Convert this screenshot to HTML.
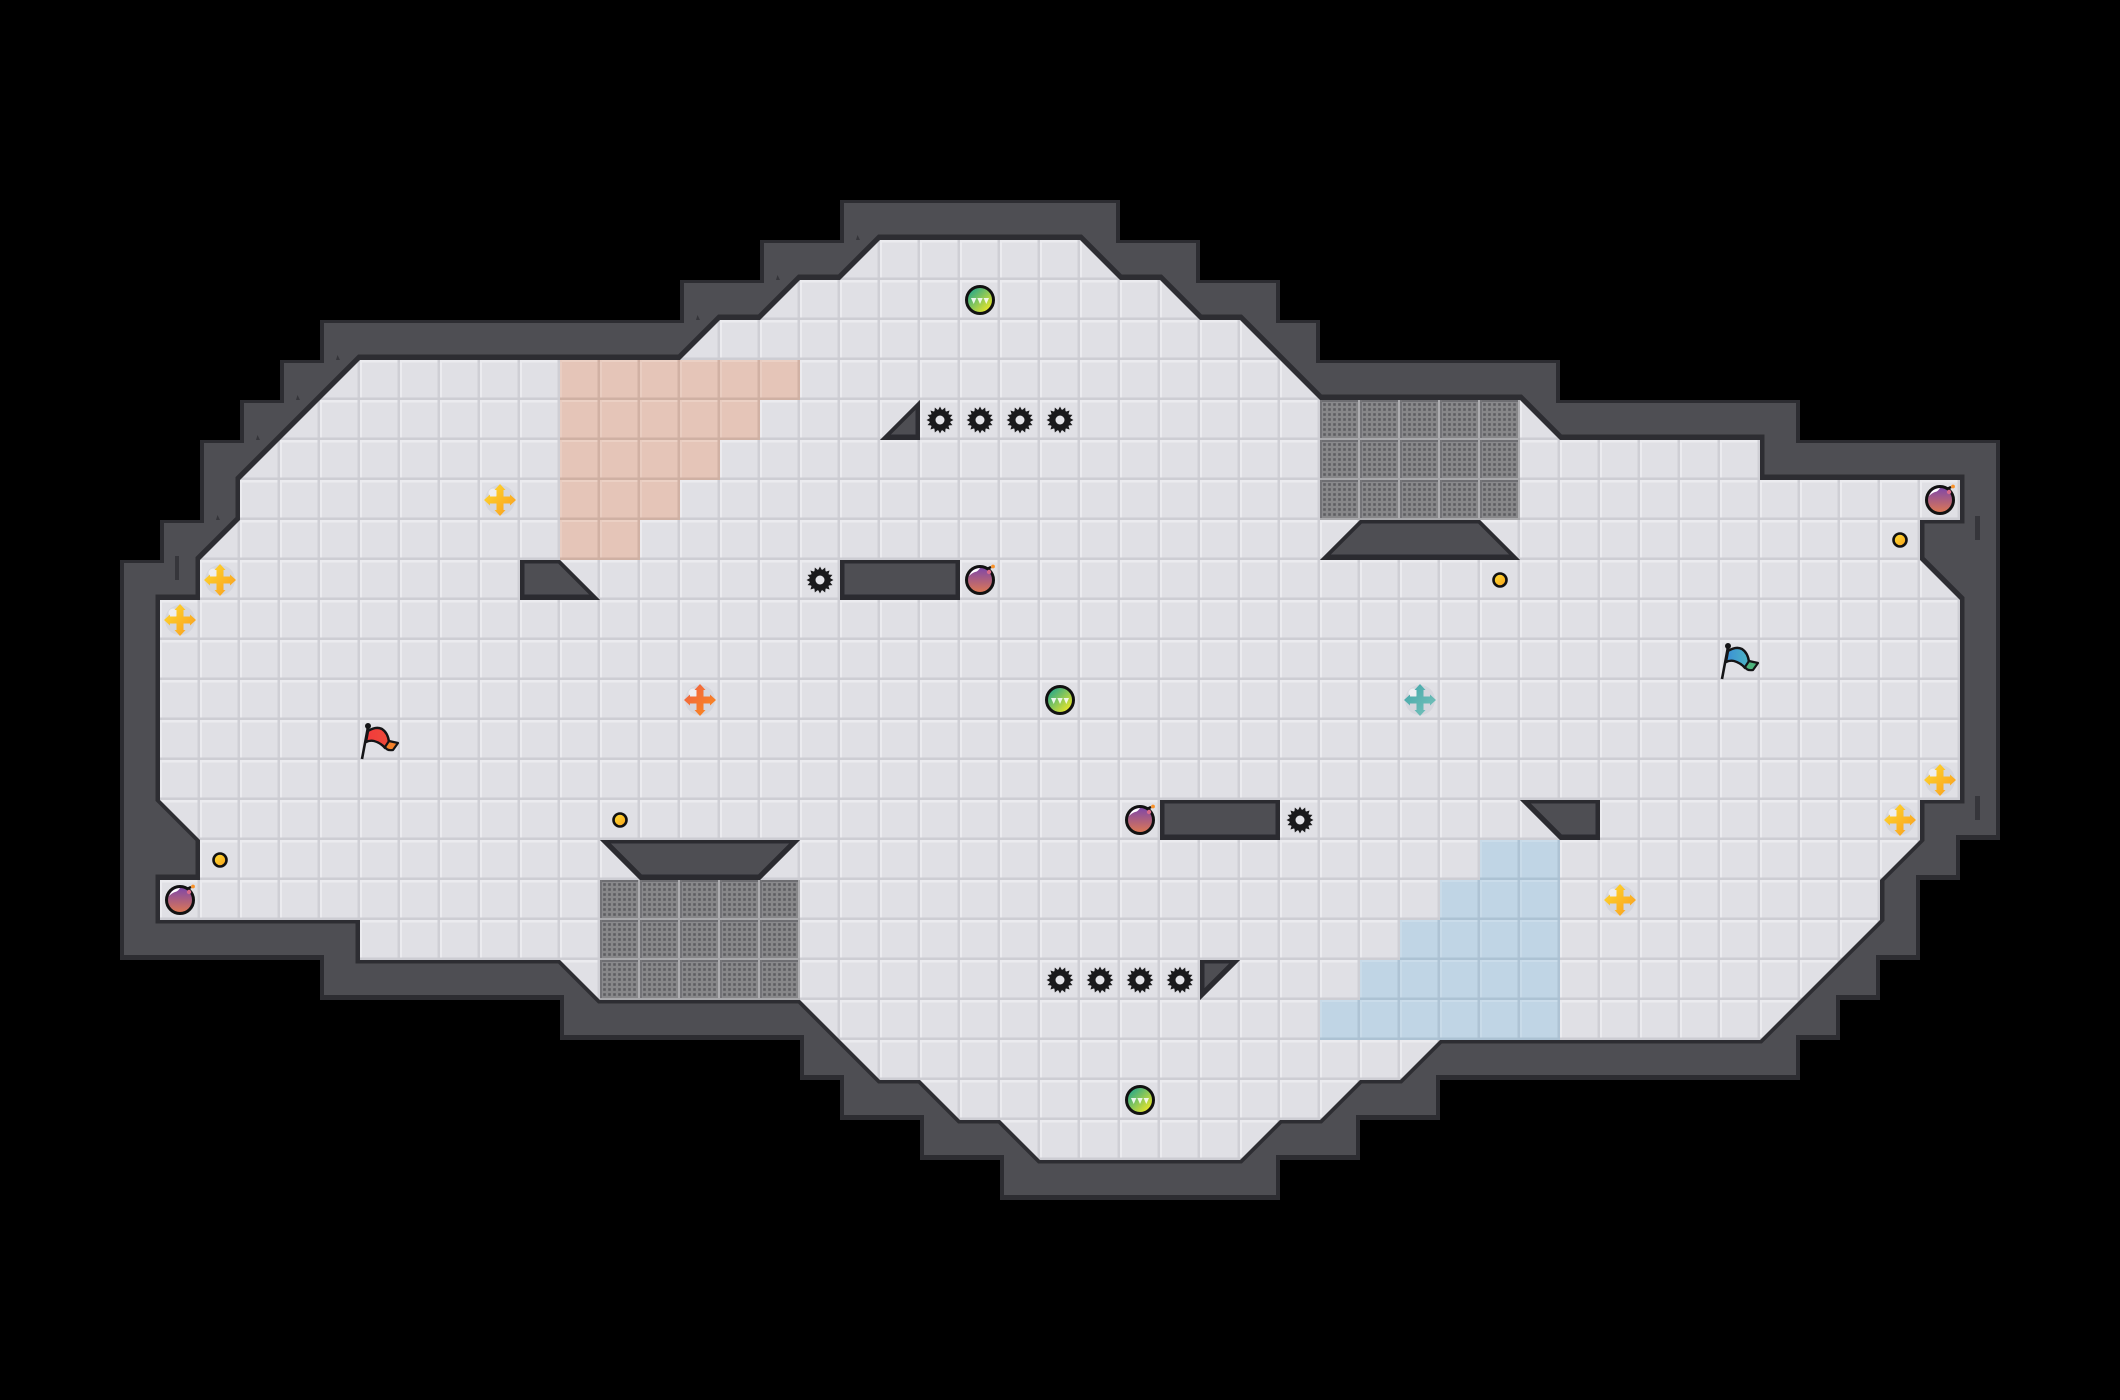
<!DOCTYPE html>
<html>
<head>
<meta charset="utf-8">
<style>
html,body{margin:0;padding:0;background:#000;}
svg{display:block;}
</style>
</head>
<body>
<svg xmlns="http://www.w3.org/2000/svg" width="2120" height="1400" viewBox="0 0 2120 1400">
<defs>
<polygon id="wall" points="3,14 4,14 4,13 5,13 5,11 6,11 6,10 7,10 7,9 8,9 8,8 17,8 17,7 19,7 19,6 21,6 21,5 28,5 28,6 30,6 30,7 32,7 32,8 33,8 33,9 39,9 39,10 45,10 45,11 50,11 50,21 49,21 49,22 48,22 48,24 47,24 47,25 46,25 46,26 45,26 45,27 36,27 36,28 34,28 34,29 32,29 32,30 25,30 25,29 23,29 23,28 21,28 21,27 20,27 20,26 14,26 14,25 8,25 8,24 3,24"/>
<polygon id="floor" points="4,15 5,15 5,14 6,13 6,12 9,9 17,9 18,8 19,8 20,7 21,7 22,6 27,6 28,7 29,7 30,8 31,8 33,10 38,10 39,11 44,11 44,12 49,12 49,13 48,13 48,14 49,15 49,20 48,20 48,21 47,22 47,23 44,26 36,26 35,27 34,27 33,28 32,28 31,29 26,29 25,28 24,28 23,27 22,27 20,25 15,25 14,24 9,24 9,23 4,23 4,22 5,22 5,21 4,20"/>
<g id="obs">
<polygon points="13,14 14,14 15,15 13,15"/>
<polygon points="23,10 23,11 22,11"/>
<polygon points="21,14 24,14 24,15 21,15"/>
<polygon points="34,13 37,13 38,14 33,14"/>
<polygon points="29,20 32,20 32,21 29,21"/>
<polygon points="38,20 40,20 40,21 39,21"/>
<polygon points="15,21 20,21 19,22 16,22"/>
<polygon points="30,24 31,24 30,25"/>
</g>
<clipPath id="cw"><use href="#wall" transform="scale(40)"/></clipPath>
<clipPath id="cf"><use href="#floor" transform="scale(40)"/></clipPath>
<clipPath id="co">
<polygon transform="scale(40)" points="13,14 14,14 15,15 13,15"/>
<polygon transform="scale(40)" points="23,10 23,11 22,11"/>
<polygon transform="scale(40)" points="21,14 24,14 24,15 21,15"/>
<polygon transform="scale(40)" points="34,13 37,13 38,14 33,14"/>
<polygon transform="scale(40)" points="29,20 32,20 32,21 29,21"/>
<polygon transform="scale(40)" points="38,20 40,20 40,21 39,21"/>
<polygon transform="scale(40)" points="15,21 20,21 19,22 16,22"/>
<polygon transform="scale(40)" points="30,24 31,24 30,25"/>
</clipPath>
<pattern id="tile" patternUnits="userSpaceOnUse" width="40" height="40">
<rect width="40" height="40" fill="#e0e0e5"/>
<rect x="0" y="0" width="40" height="2.5" fill="#ebebef"/>
<rect x="0" y="0" width="2" height="40" fill="#ebebef"/>
<rect x="37.5" y="0" width="2.5" height="40" fill="#cfcfd5"/>
<rect x="0" y="37.5" width="40" height="2.5" fill="#cdcdd3"/>
</pattern>
<pattern id="tileS" patternUnits="userSpaceOnUse" width="40" height="40">
<rect width="40" height="40" fill="#e5c5b8"/>
<rect x="0" y="0" width="40" height="2" fill="#ebd0c4"/>
<rect x="0" y="0" width="2" height="40" fill="#e9cdc1"/>
<rect x="37.5" y="0" width="2.5" height="40" fill="#d1b1a4"/>
<rect x="0" y="37.5" width="40" height="2.5" fill="#cfb0a3"/>
</pattern>
<pattern id="tileB" patternUnits="userSpaceOnUse" width="40" height="40">
<rect width="40" height="40" fill="#c0d5e5"/>
<rect x="0" y="0" width="40" height="2" fill="#cadcea"/>
<rect x="0" y="0" width="2" height="40" fill="#c8dbe9"/>
<rect x="37.5" y="0" width="2.5" height="40" fill="#aec3d4"/>
<rect x="0" y="37.5" width="40" height="2.5" fill="#acc2d3"/>
</pattern>
<pattern id="dots" patternUnits="userSpaceOnUse" x="2" y="2" width="5" height="5">
<rect width="5" height="5" fill="#878789"/>
<rect x="1.2" y="1.2" width="2.6" height="2.6" fill="#5d5d61"/>
</pattern>
<g id="grayt">
<rect width="40" height="40" fill="#8a8a8d"/>
<rect x="3" y="3" width="35" height="35" fill="url(#dots)"/>
<rect x="0" y="0" width="40" height="2" fill="#6e6e72"/>
<rect x="0" y="0" width="2" height="40" fill="#737377"/>
<rect x="38" y="0" width="2" height="40" fill="#adadb0"/>
<rect x="0" y="38" width="40" height="2" fill="#a8a8ab"/>
</g>
<linearGradient id="gy" x1="0" y1="0" x2="1" y2="1"><stop offset="0" stop-color="#ffdc2e"/><stop offset="1" stop-color="#f99a20"/></linearGradient>
<linearGradient id="go" x1="0" y1="0" x2="1" y2="1"><stop offset="0" stop-color="#f05f45"/><stop offset="1" stop-color="#fa8c1c"/></linearGradient>
<linearGradient id="gt" x1="0" y1="0" x2="1" y2="1"><stop offset="0" stop-color="#3fa5a8"/><stop offset="1" stop-color="#7cc4bc"/></linearGradient>
<linearGradient id="gg" x1="0.1" y1="0.1" x2="0.9" y2="0.9"><stop offset="0" stop-color="#1fa58e"/><stop offset="1" stop-color="#f7ea22"/></linearGradient>
<linearGradient id="gp" x1="0" y1="0" x2="0" y2="1"><stop offset="0" stop-color="#7a45ad"/><stop offset="1" stop-color="#e07a50"/></linearGradient>
<linearGradient id="gc" x1="0" y1="0" x2="1" y2="1"><stop offset="0" stop-color="#ffe033"/><stop offset="1" stop-color="#f8a01c"/></linearGradient>
<linearGradient id="gfr" x1="0" y1="0" x2="1" y2="0"><stop offset="0" stop-color="#f23a3c"/><stop offset="1" stop-color="#ee4a3a"/></linearGradient>
<linearGradient id="gfb" x1="0" y1="0" x2="1" y2="0"><stop offset="0" stop-color="#3a8fd6"/><stop offset="1" stop-color="#4db5c4"/></linearGradient>
<path id="crossp" d="M0,-16 L5.5,-10 L3.5,-10 L3.5,-3.5 L10,-3.5 L10,-5.5 L16,0 L10,5.5 L10,3.5 L3.5,3.5 L3.5,10 L5.5,10 L0,16 L-5.5,10 L-3.5,10 L-3.5,3.5 L-10,3.5 L-10,5.5 L-16,0 L-10,-5.5 L-10,-3.5 L-3.5,-3.5 L-3.5,-10 L-5.5,-10 Z"/>
<g id="crossbg"><circle r="15" fill="#d5d6dd"/><circle cx="-7" cy="-7" r="4.5" fill="#eeeef2"/></g>
<g id="gear">
<polygon fill="#1a1a1c" points="13.5,0 9.81,1.95 12.47,5.17 8.31,5.56 9.55,9.55 5.56,8.31 5.17,12.47 1.95,9.81 0,13.5 -1.95,9.81 -5.17,12.47 -5.56,8.31 -9.55,9.55 -8.31,5.56 -12.47,5.17 -9.81,1.95 -13.5,0 -9.81,-1.95 -12.47,-5.17 -8.31,-5.56 -9.55,-9.55 -5.56,-8.31 -5.17,-12.47 -1.95,-9.81 0,-13.5 1.95,-9.81 5.17,-12.47 5.56,-8.31 9.55,-9.55 8.31,-5.56 12.47,-5.17 9.81,-1.95"/>
<circle r="10.5" fill="#1a1a1c"/>
<circle r="4.5" fill="#e4e4e8"/>
</g>
<g id="green">
<circle r="13.5" fill="url(#gg)" stroke="#111" stroke-width="3"/>
<path d="M-9,-2 L-3.6,-2 L-6.3,4Z M-2.7,-2 L2.7,-2 L0,4Z M3.6,-2 L9,-2 L6.3,4Z" fill="#fff" opacity=".85"/>
</g>
<g id="bomb">
<circle r="13.5" fill="url(#gp)" stroke="#111" stroke-width="3"/>
<path d="M-11,-4 Q-8,-11.5 0,-12 Q-2,-8.5 -5,-8 Q-8,-7 -11,-4Z" fill="#fff"/>
<path d="M7,-11 L11,-13" stroke="#111" stroke-width="2.4"/>
<circle cx="9" cy="-8" r="2.2" fill="#d96a8a"/>
<circle cx="13" cy="-13.5" r="1.9" fill="#f9922a"/>
</g>
<g id="coin"><circle r="6.5" fill="url(#gc)" stroke="#111" stroke-width="2.6"/></g>
</defs>

<rect width="2120" height="1400" fill="#000"/>

<use href="#wall" transform="scale(40)" fill="#4e4e53"/>
<g clip-path="url(#cw)">
<g transform="translate(0,-1) scale(40)">
<use href="#wall" fill="none" stroke="#2d2d32" stroke-width="0.2" stroke-miterlimit="10"/>
</g>
<g transform="translate(0,-1) scale(40)">
<use href="#floor" fill="none" stroke="#2d2d32" stroke-width="0.225" stroke-miterlimit="10"/>
</g>
</g>

<!-- wall notches -->
<g fill="#36363b">
<rect x="175" y="556" width="4" height="24"/>
<rect x="1975" y="516" width="5" height="24"/>
<rect x="1975" y="796" width="5" height="24"/>
<path d="M336,360 L337.5,355 L340,360Z M296,400 L297.5,395 L300,400Z M256,440 L257.5,435 L260,440Z M216,520 L217.5,515 L220,520Z M696,320 L697.5,315 L700,320Z M776,280 L777.5,275 L780,280Z M856,240 L857.5,235 L860,240Z"/>
</g>

<!-- floor -->
<g clip-path="url(#cf)">
<rect x="0" y="0" width="2120" height="1400" fill="url(#tile)"/>
<g fill="url(#tileS)">
<rect x="560" y="360" width="240" height="40"/>
<rect x="560" y="400" width="200" height="40"/>
<rect x="560" y="440" width="160" height="40"/>
<rect x="560" y="480" width="120" height="40"/>
<rect x="560" y="520" width="80" height="40"/>
</g>
<g fill="url(#tileB)">
<rect x="1480" y="840" width="80" height="40"/>
<rect x="1440" y="880" width="120" height="40"/>
<rect x="1400" y="920" width="160" height="40"/>
<rect x="1360" y="960" width="200" height="40"/>
<rect x="1320" y="1000" width="240" height="40"/>
</g>
</g>

<!-- gray tiles -->
<g>
<use href="#grayt" x="1320" y="400"/><use href="#grayt" x="1360" y="400"/><use href="#grayt" x="1400" y="400"/><use href="#grayt" x="1440" y="400"/><use href="#grayt" x="1480" y="400"/>
<use href="#grayt" x="1320" y="440"/><use href="#grayt" x="1360" y="440"/><use href="#grayt" x="1400" y="440"/><use href="#grayt" x="1440" y="440"/><use href="#grayt" x="1480" y="440"/>
<use href="#grayt" x="1320" y="480"/><use href="#grayt" x="1360" y="480"/><use href="#grayt" x="1400" y="480"/><use href="#grayt" x="1440" y="480"/><use href="#grayt" x="1480" y="480"/>
</g>
<g>
<use href="#grayt" x="600" y="880"/><use href="#grayt" x="640" y="880"/><use href="#grayt" x="680" y="880"/><use href="#grayt" x="720" y="880"/><use href="#grayt" x="760" y="880"/>
<use href="#grayt" x="600" y="920"/><use href="#grayt" x="640" y="920"/><use href="#grayt" x="680" y="920"/><use href="#grayt" x="720" y="920"/><use href="#grayt" x="760" y="920"/>
<use href="#grayt" x="600" y="960"/><use href="#grayt" x="640" y="960"/><use href="#grayt" x="680" y="960"/><use href="#grayt" x="720" y="960"/><use href="#grayt" x="760" y="960"/>
</g>

<!-- obstacles -->
<use href="#obs" transform="scale(40)" fill="#4e4e53"/>
<g clip-path="url(#co)">
<g transform="translate(0,-1) scale(40)">
<use href="#obs" fill="none" stroke="#2b2b30" stroke-width="0.225" stroke-miterlimit="10"/>
</g>
</g>

<!-- gears -->
<use href="#gear" x="940" y="420"/><use href="#gear" x="980" y="420"/><use href="#gear" x="1020" y="420"/><use href="#gear" x="1060" y="420"/>
<use href="#gear" x="820" y="580"/><use href="#gear" x="1300" y="820"/>
<use href="#gear" x="1060" y="980"/><use href="#gear" x="1100" y="980"/><use href="#gear" x="1140" y="980"/><use href="#gear" x="1180" y="980"/>

<!-- green -->
<use href="#green" x="980" y="300"/><use href="#green" x="1060" y="700"/><use href="#green" x="1140" y="1100"/>

<!-- bombs -->
<use href="#bomb" x="980" y="580"/><use href="#bomb" x="1140" y="820"/><use href="#bomb" x="180" y="900"/><use href="#bomb" x="1940" y="500"/>

<!-- coins -->
<use href="#coin" x="1500" y="580"/><use href="#coin" x="1900" y="540"/><use href="#coin" x="620" y="820"/><use href="#coin" x="220" y="860"/>

<!-- crosses -->
<g transform="translate(500,500)"><use href="#crossbg"/><use href="#crossp" fill="url(#gy)"/></g>
<g transform="translate(220,580)"><use href="#crossbg"/><use href="#crossp" fill="url(#gy)"/></g>
<g transform="translate(180,620)"><use href="#crossbg"/><use href="#crossp" fill="url(#gy)"/></g>
<g transform="translate(1940,780)"><use href="#crossbg"/><use href="#crossp" fill="url(#gy)"/></g>
<g transform="translate(1900,820)"><use href="#crossbg"/><use href="#crossp" fill="url(#gy)"/></g>
<g transform="translate(1620,900)"><use href="#crossbg"/><use href="#crossp" fill="url(#gy)"/></g>
<g transform="translate(700,700)"><use href="#crossbg"/><use href="#crossp" fill="url(#go)"/></g>
<g transform="translate(1420,700)"><use href="#crossbg"/><use href="#crossp" fill="url(#gt)"/></g>

<!-- red flag -->
<g>
<path d="M368,731 Q376,726 382,729 Q388,733 389,742 L385,748 Q381,743 374,741 Q370,740 366,742Z" fill="url(#gfr)" stroke="#141416" stroke-width="2.4" stroke-linejoin="round"/>
<path d="M389,741 L398,743 L393,750 Q387,751 385,747Z" fill="#f3812a" stroke="#141416" stroke-width="2.2" stroke-linejoin="round"/>
<path d="M362,759 L368,727" stroke="#141416" stroke-width="2.6" fill="none"/>
<circle cx="368" cy="726" r="3" fill="#141416"/>
</g>
<!-- blue flag -->
<g transform="translate(1360,-80)">
<path d="M368,731 Q376,726 382,729 Q388,733 389,742 L385,748 Q381,743 374,741 Q370,740 366,742Z" fill="url(#gfb)" stroke="#141416" stroke-width="2.4" stroke-linejoin="round"/>
<path d="M389,741 L398,743 L393,750 Q387,751 385,747Z" fill="#4db37c" stroke="#141416" stroke-width="2.2" stroke-linejoin="round"/>
<path d="M362,759 L368,727" stroke="#141416" stroke-width="2.6" fill="none"/>
<circle cx="368" cy="726" r="3" fill="#141416"/>
</g>
</svg>
</body>
</html>
